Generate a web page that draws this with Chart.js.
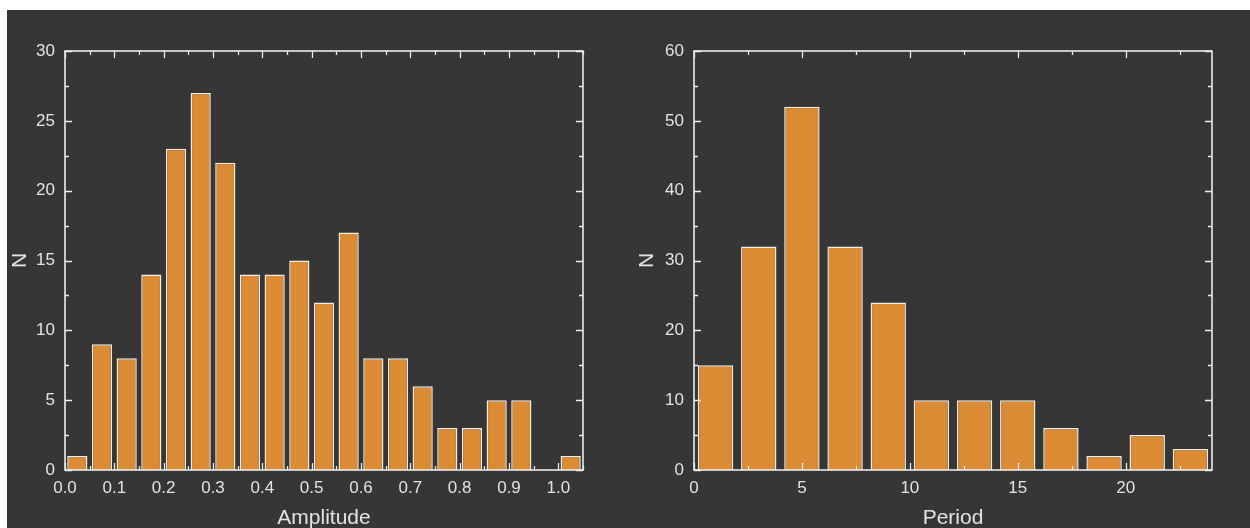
<!DOCTYPE html>
<html>
<head>
<meta charset="utf-8">
<script src="https://cdn.jsdelivr.net/npm/chart.js@4.4.0/dist/chart.umd.min.js"></script>
<style>
  html, body { margin: 0; padding: 0; background: #ffffff; width: 1250px; height: 528px; overflow: hidden; }
  .panel { position: absolute; top: 10px; height: 518px; background: #363636; }
  #panelA { left: 7px; width: 629px; }
  #panelB { left: 636px; width: 614px; }
  canvas { display: block; }
</style>
</head>
<body>
<div class="panel" id="panelA"><canvas id="ampChart" width="629" height="518"></canvas></div>
<div class="panel" id="panelB"><canvas id="perChart" width="614" height="518"></canvas></div>
<script>
// Amplitude histogram: bin centres (bin width 0.05) and counts
const amplitudeCenters = [0.025, 0.075, 0.125, 0.175, 0.225, 0.275, 0.325, 0.375, 0.425, 0.475,
                          0.525, 0.575, 0.625, 0.675, 0.725, 0.775, 0.825, 0.875, 0.925, 0.975, 1.025];
const amplitudeCounts  = [1, 9, 8, 14, 23, 27, 22, 14, 14, 15, 12, 17, 8, 8, 6, 3, 3, 5, 5, 0, 1];

// Period histogram: bin centres (bin width 2) and counts
const periodCenters = [1, 3, 5, 7, 9, 11, 13, 15, 17, 19, 21, 23];
const periodCounts  = [15, 32, 52, 32, 24, 10, 10, 10, 6, 2, 5, 3];

// Axis ranges
const amplitudeXRange = [0, 1.05];
const amplitudeYRange = [0, 30];
const periodXRange = [0, 24];
const periodYRange = [0, 60];

const FONT = "'Liberation Sans', Arial, sans-serif";
const TEXT = '#e2e2e2';
const FRAME = '#ececec';
const BAR_FILL = '#da8b33';
const BAR_EDGE = '#f5ebe0';

// Frame box with inward major/minor ticks on all four sides
const innerTicks = {
  id: 'innerTicks',
  afterDatasetsDraw(chart, args, opts) {
    const { ctx, chartArea: a, scales: { x, y } } = chart;
    ctx.save();
    ctx.strokeStyle = FRAME;

    const positions = (scale, step) => {
      const majors = scale.ticks.map(t => t.value);
      const minors = [];
      majors.forEach(v => { if (v + step / 2 <= scale.max + 1e-9) minors.push(v + step / 2); });
      return { majors, minors };
    };

    const xp = positions(x, opts.xStep);
    const yp = positions(y, opts.yStep);
    const MAJ = 7, MIN = 4;

    ctx.lineWidth = 1.3;
    const drawX = (vals, len) => vals.forEach(v => {
      const px = Math.round(x.getPixelForValue(v)) + 0.5;
      ctx.beginPath();
      ctx.moveTo(px, a.bottom); ctx.lineTo(px, a.bottom - len);
      ctx.moveTo(px, a.top); ctx.lineTo(px, a.top + len);
      ctx.stroke();
    });
    const drawY = (vals, len) => vals.forEach(v => {
      const py = Math.round(y.getPixelForValue(v)) + 0.5;
      ctx.beginPath();
      ctx.moveTo(a.left, py); ctx.lineTo(a.left + len, py);
      ctx.moveTo(a.right, py); ctx.lineTo(a.right - len, py);
      ctx.stroke();
    });
    drawX(xp.majors, MAJ); drawX(xp.minors, MIN);
    drawY(yp.majors, MAJ); drawY(yp.minors, MIN);

    ctx.lineWidth = 1.6;
    ctx.strokeRect(a.left, a.top, a.right - a.left, a.bottom - a.top);
    ctx.restore();
  }
};

function histogram(canvasId, centers, counts, xRange, yRange, xStep, yStep, xDigits, xTitle, pad, titlePad) {
  const points = centers.map((c, i) => ({ x: c, y: counts[i] }));
  return new Chart(document.getElementById(canvasId), {
    type: 'bar',
    data: {
      datasets: [{
        data: points,
        backgroundColor: BAR_FILL,
        borderColor: BAR_EDGE,
        borderWidth: 1.5,
        borderSkipped: 'start',
        barPercentage: 0.82,
        categoryPercentage: 1.0
      }]
    },
    options: {
      responsive: false,
      animation: false,
      events: [],
      layout: { padding: pad },
      plugins: {
        legend: { display: false },
        tooltip: { enabled: false },
        innerTicks: { xStep: xStep, yStep: yStep }
      },
      scales: {
        x: {
          type: 'linear',
          min: xRange[0], max: xRange[1],
          offset: false,
          grid: { display: false, drawTicks: false, offset: false },
          border: { display: false },
          ticks: {
            stepSize: xStep,
            includeBounds: false,
            autoSkip: false,
            maxRotation: 0,
            padding: 8,
            color: TEXT,
            font: { family: FONT, size: 17 },
            callback: v => Number(v).toFixed(xDigits)
          },
          title: {
            display: true, text: xTitle, color: TEXT,
            font: { family: FONT, size: 21, lineHeight: 1 },
            padding: { top: 0, bottom: -1 }
          },
          afterFit: s => { s.height = 58; }
        },
        y: {
          type: 'linear',
          min: yRange[0], max: yRange[1],
          grid: { display: false, drawTicks: false },
          border: { display: false },
          ticks: {
            stepSize: yStep,
            padding: 10,
            color: TEXT,
            font: { family: FONT, size: 17 }
          },
          title: {
            display: true, text: 'N', color: TEXT,
            font: { family: FONT, size: 21, lineHeight: 1 },
            padding: { top: titlePad, bottom: 0 }
          },
          afterFit: s => { s.width = 58; }
        }
      }
    },
    plugins: [innerTicks]
  });
}

histogram('ampChart', amplitudeCenters, amplitudeCounts, amplitudeXRange, amplitudeYRange,
          0.1, 5, 1, 'Amplitude', { left: 0, top: 41, right: 53, bottom: 0 }, 3);
histogram('perChart', periodCenters, periodCounts, periodXRange, periodYRange,
          5, 10, 0, 'Period', { left: 0, top: 41, right: 38, bottom: 0 }, 1);
</script>
</body>
</html>
